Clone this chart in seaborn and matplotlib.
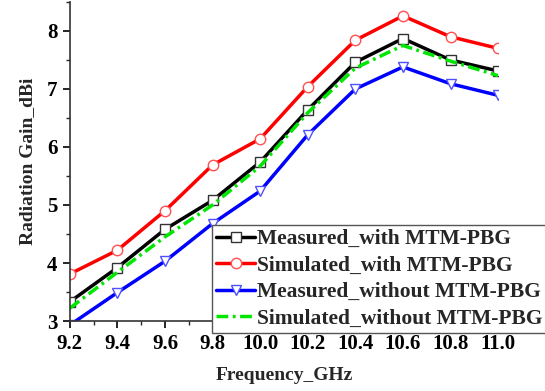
import matplotlib
matplotlib.use("Agg")
import matplotlib.pyplot as plt
import seaborn as sns
import pandas as pd
from matplotlib.ticker import MultipleLocator

freq = [9.2, 9.4, 9.6, 9.8, 10.0, 10.2, 10.4, 10.6, 10.8, 11.0]
meas_with = [3.33, 3.92, 4.58, 5.08, 5.74, 6.64, 7.46, 7.87, 7.50, 7.31]
sim_with = [3.81, 4.22, 4.90, 5.69, 6.14, 7.04, 7.84, 8.26, 7.90, 7.70]
meas_without = [2.93, 3.49, 4.03, 4.68, 5.24, 6.21, 7.00, 7.38, 7.09, 6.89]
sim_without = [3.22, 3.84, 4.45, 5.00, 5.67, 6.59, 7.36, 7.75, 7.48, 7.23]

labels = ["Measured_with MTM-PBG", "Simulated_with MTM-PBG",
          "Measured_without MTM-PBG", "Simulated_without MTM-PBG"]

sns.set_style("ticks")
plt.rcParams["font.family"] = ["Liberation Serif", "DejaVu Serif"]
plt.rcParams["font.weight"] = "bold"

fig = plt.figure(figsize=(5.45, 3.91), dpi=100)
ax = fig.add_axes([0.128, 0.179, 0.786, 0.816])

lw = 2.5
ms = 7.5
styles = [
    dict(color="black", marker="s", markerfacecolor="white", markeredgecolor="#333333", linestyle="-"),
    dict(color="#ff0000", marker="o", markerfacecolor="white", markeredgecolor="#ff5050", linestyle="-"),
    dict(color="#0000ff", marker="v", markerfacecolor="white", markeredgecolor="#5050ff", linestyle="-"),
    dict(color="#00e600", marker=None, linestyle=(0, (3.4, 1.3, 0.8, 1.3))),
]
series = [meas_with, sim_with, meas_without, sim_without]
for vals, lab, st in zip(series, labels, styles):
    df = pd.DataFrame({"f": freq, "g": vals})
    sns.lineplot(data=df, x="f", y="g", ax=ax, label=lab, linewidth=lw,
                 markersize=ms, markeredgewidth=1.0, **st)

ax.set_xlim(9.2, 11.0)
ax.set_ylim(3, 8.5)
ax.xaxis.set_major_locator(MultipleLocator(0.2))
ax.xaxis.set_minor_locator(MultipleLocator(0.1))
ax.yaxis.set_major_locator(MultipleLocator(1))
ax.yaxis.set_minor_locator(MultipleLocator(0.5))
ax.set_xticks(freq)
ax.set_xticklabels([f"{v:.1f}" for v in freq])
ax.tick_params(which="major", direction="out", length=5, width=1.2, labelsize=15, pad=4, colors="black")
ax.tick_params(which="minor", direction="out", length=3, width=1.0)
for lbl in ax.get_xticklabels() + ax.get_yticklabels():
    lbl.set_fontweight("bold")
for side in ["top", "right"]:
    ax.spines[side].set_visible(False)
for side in ["left", "bottom"]:
    ax.spines[side].set_linewidth(1.2)
    ax.spines[side].set_color("#333333")

ax.set_xlabel("Frequency_GHz", fontsize=14, fontweight="bold", labelpad=10)
ax.set_ylabel("Radiation Gain_dBi", fontsize=14, fontweight="bold", labelpad=8)

leg = ax.legend(loc="lower left", bbox_to_anchor=(0.389, 0.148), bbox_transform=fig.transFigure,
                prop={"weight": "bold", "size": 15.5}, frameon=True, fancybox=False,
                borderpad=0.2, labelspacing=0.3, handlelength=1.8, handletextpad=0.1,
                borderaxespad=0)
leg.get_frame().set_edgecolor("#555555")
leg.get_frame().set_linewidth(1.0)
leg.get_frame().set_alpha(1)
leg.set_zorder(10)

fig.savefig("out.png", dpi=100)
